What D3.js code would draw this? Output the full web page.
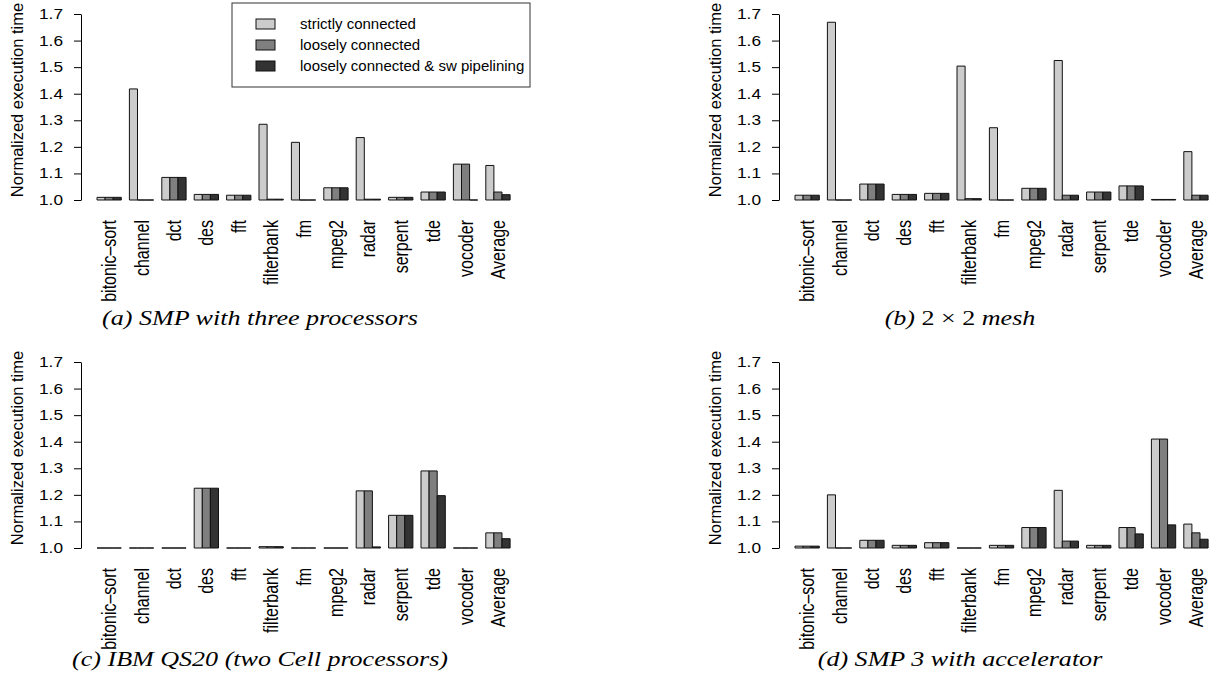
<!DOCTYPE html>
<html>
<head>
<meta charset="utf-8">
<script src="https://cdn.jsdelivr.net/npm/d3@7"></script>
<style>
  body { margin: 0; background: #fff; }
  svg { display: block; }
  text { font-family: "Liberation Sans", Arial, Helvetica, sans-serif; fill: #000; }
  .caption { font-family: "Liberation Serif", "DejaVu Serif", serif; font-style: italic; }
</style>
</head>
<body>
<svg id="chart" width="1218" height="688"></svg>
<script>
// Benchmarks on the x axis, same for all four panels
var benchmarks = ["bitonic–sort", "channel", "dct", "des", "fft", "filterbank", "fm",
  "mpeg2", "radar", "serpent", "tde", "vocoder", "Average"];
var seriesNames = ["strictly connected", "loosely connected", "loosely connected & sw pipelining"];
var seriesColors = ["#cccccc", "#7f7f7f", "#333333"];
var yTicks = [1.0, 1.1, 1.2, 1.3, 1.4, 1.5, 1.6, 1.7];

// (a) SMP with three processors
var smpStrict = [1.010, 1.418, 1.085, 1.021, 1.018, 1.285, 1.217, 1.046, 1.235, 1.010, 1.030, 1.135, 1.130];
var smpLoose  = [1.010, 1.000, 1.085, 1.021, 1.018, 1.003, 1.000, 1.046, 1.003, 1.010, 1.030, 1.135, 1.030];
var smpPipe   = [1.010, 1.000, 1.085, 1.021, 1.018, 1.003, 1.000, 1.046, 1.003, 1.010, 1.030, 1.000, 1.020];

// (b) 2x2 mesh
var meshStrict = [1.018, 1.669, 1.060, 1.021, 1.025, 1.504, 1.272, 1.044, 1.525, 1.030, 1.053, 1.002, 1.182];
var meshLoose  = [1.018, 1.000, 1.060, 1.021, 1.025, 1.005, 1.000, 1.044, 1.018, 1.030, 1.053, 1.002, 1.018];
var meshPipe   = [1.018, 1.000, 1.060, 1.021, 1.025, 1.005, 1.000, 1.044, 1.018, 1.030, 1.053, 1.002, 1.018];

// (c) IBM QS20
var cellStrict = [1.000, 1.000, 1.000, 1.225, 1.000, 1.005, 1.000, 1.000, 1.215, 1.123, 1.290, 1.000, 1.057];
var cellLoose  = [1.000, 1.000, 1.000, 1.225, 1.000, 1.005, 1.000, 1.000, 1.215, 1.123, 1.290, 1.000, 1.057];
var cellPipe   = [1.000, 1.000, 1.000, 1.225, 1.000, 1.005, 1.000, 1.000, 1.004, 1.123, 1.197, 1.000, 1.035];

// (d) SMP 3 with accelerator
var accStrict = [1.007, 1.200, 1.029, 1.010, 1.020, 1.000, 1.010, 1.077, 1.217, 1.010, 1.077, 1.410, 1.090];
var accLoose  = [1.007, 1.000, 1.029, 1.010, 1.020, 1.000, 1.010, 1.077, 1.026, 1.010, 1.077, 1.410, 1.057];
var accPipe   = [1.007, 1.000, 1.029, 1.010, 1.020, 1.000, 1.010, 1.077, 1.026, 1.010, 1.053, 1.087, 1.033];

var panels = [
  {series: [smpStrict, smpLoose, smpPipe], axisX: 81, baseY: 200, legend: true,
    caption: ["(a) SMP with three processors"], capX: 260, capY: 325},
  {series: [meshStrict, meshLoose, meshPipe], axisX: 779, baseY: 200,
    caption: ["(b) ", "2 × 2", " mesh"], capX: 960, capY: 325},
  {series: [cellStrict, cellLoose, cellPipe], axisX: 81, baseY: 548,
    caption: ["(c) IBM QS20 (two Cell processors)"], capX: 260, capY: 666},
  {series: [accStrict, accLoose, accPipe], axisX: 779, baseY: 548,
    caption: ["(d) SMP 3 with accelerator"], capX: 960, capY: 666}
];

var svg = d3.select("#chart");
var axisH = 186;      // pixel height of 1.0 -> 1.7
var groupStep = 32.4; // distance between benchmark groups
var groupOffset = 16; // gap between y axis and the first group
var capScale = 1;

panels.forEach(function(p, pi) {
  var g = svg.append("g");

  var y = d3.scaleLinear().domain([1.0, 1.7]).range([p.baseY, p.baseY - axisH]);
  var x0 = d3.scaleBand()
    .domain(benchmarks)
    .range([p.axisX + groupOffset,
      p.axisX + groupOffset + groupStep * benchmarks.length - groupStep * 0.25])
    .paddingInner(0.25);
  var x1 = d3.scaleBand().domain([0, 1, 2]).range([0, x0.bandwidth()]);

  // y axis, R style: line between first and last tick, ticks outward
  var axis = g.append("g")
    .attr("transform", "translate(" + p.axisX + ",0)")
    .call(d3.axisLeft(y).tickValues(yTicks).tickFormat(d3.format(".1f"))
      .tickSize(7).tickSizeOuter(0).tickPadding(11));
  axis.select(".domain").attr("stroke", "#000");
  axis.selectAll(".tick line").attr("stroke", "#000");
  axis.selectAll(".tick text")
    .attr("font-family", "Liberation Sans, Arial, sans-serif")
    .attr("font-size", 14)
    .attr("fill", "#000")
    .attr("textLength", 24)
    .attr("lengthAdjust", "spacingAndGlyphs");

  g.append("text")
    .attr("transform", "translate(" + (p.axisX - 64) + "," + (p.baseY - 100) + ") rotate(-90)")
    .attr("text-anchor", "middle")
    .attr("dy", "0.35em")
    .attr("font-size", 16.5)
    .text("Normalized execution time");

  // bars, drawn as outlines so that bars at exactly 1.0 still show as a line
  var groups = g.selectAll("g.grp")
    .data(benchmarks)
    .join("g")
    .attr("class", "grp")
    .attr("transform", function(d) { return "translate(" + x0(d) + ",0)"; });

  groups.selectAll("path")
    .data(function(d, i) {
      return p.series.map(function(s, k) { return {k: k, v: s[i]}; });
    })
    .join("path")
    .attr("d", function(d) {
      var xl = x1(d.k), xr = xl + x1.bandwidth();
      var yb = y(1.0), yt = y(d.v);
      return "M" + xl + "," + yb + "V" + yt + "H" + xr + "V" + yb + "Z";
    })
    .attr("fill", function(d) { return seriesColors[d.k]; })
    .attr("stroke", "#111")
    .attr("stroke-width", 1);

  // rotated benchmark names
  g.selectAll("text.cat")
    .data(benchmarks)
    .join("text")
    .attr("class", "cat")
    .attr("transform", function(d) {
      return "translate(" + (x0(d) + x0.bandwidth() / 2) + "," + (p.baseY + 20) +
        ") scale(1.25,1) rotate(-90)";
    })
    .attr("text-anchor", "end")
    .attr("dy", "0.35em")
    .attr("font-size", 16)
    .text(function(d) { return d; });

  if (p.legend) {
    var lg = g.append("g");
    lg.append("rect")
      .attr("x", 232).attr("y", 3).attr("width", 298).attr("height", 84)
      .attr("fill", "#fff").attr("stroke", "#333");
    seriesNames.forEach(function(name, k) {
      lg.append("rect")
        .attr("x", 256).attr("y", 19 + k * 21).attr("width", 19).attr("height", 10)
        .attr("fill", seriesColors[k]).attr("stroke", "#111");
      lg.append("text")
        .attr("x", 300).attr("y", 29 + k * 21)
        .attr("font-size", 15)
        .text(name);
    });
  }

  // sub-figure caption, stretched like the original
  var cap = svg.append("text")
    .attr("class", "caption")
    .attr("text-anchor", "middle")
    .attr("font-size", 20);
  p.caption.forEach(function(part, j) {
    cap.append("tspan")
      .style("font-style", (p.caption.length > 1 && j == 1) ? "normal" : "italic")
      .text(part);
  });
  if (pi == 0) {
    capScale = 316 / cap.node().getComputedTextLength();
  }
  cap.attr("transform", "translate(" + p.capX + "," + p.capY + ") scale(" + capScale + ",1)");
});
</script>
</body>
</html>
